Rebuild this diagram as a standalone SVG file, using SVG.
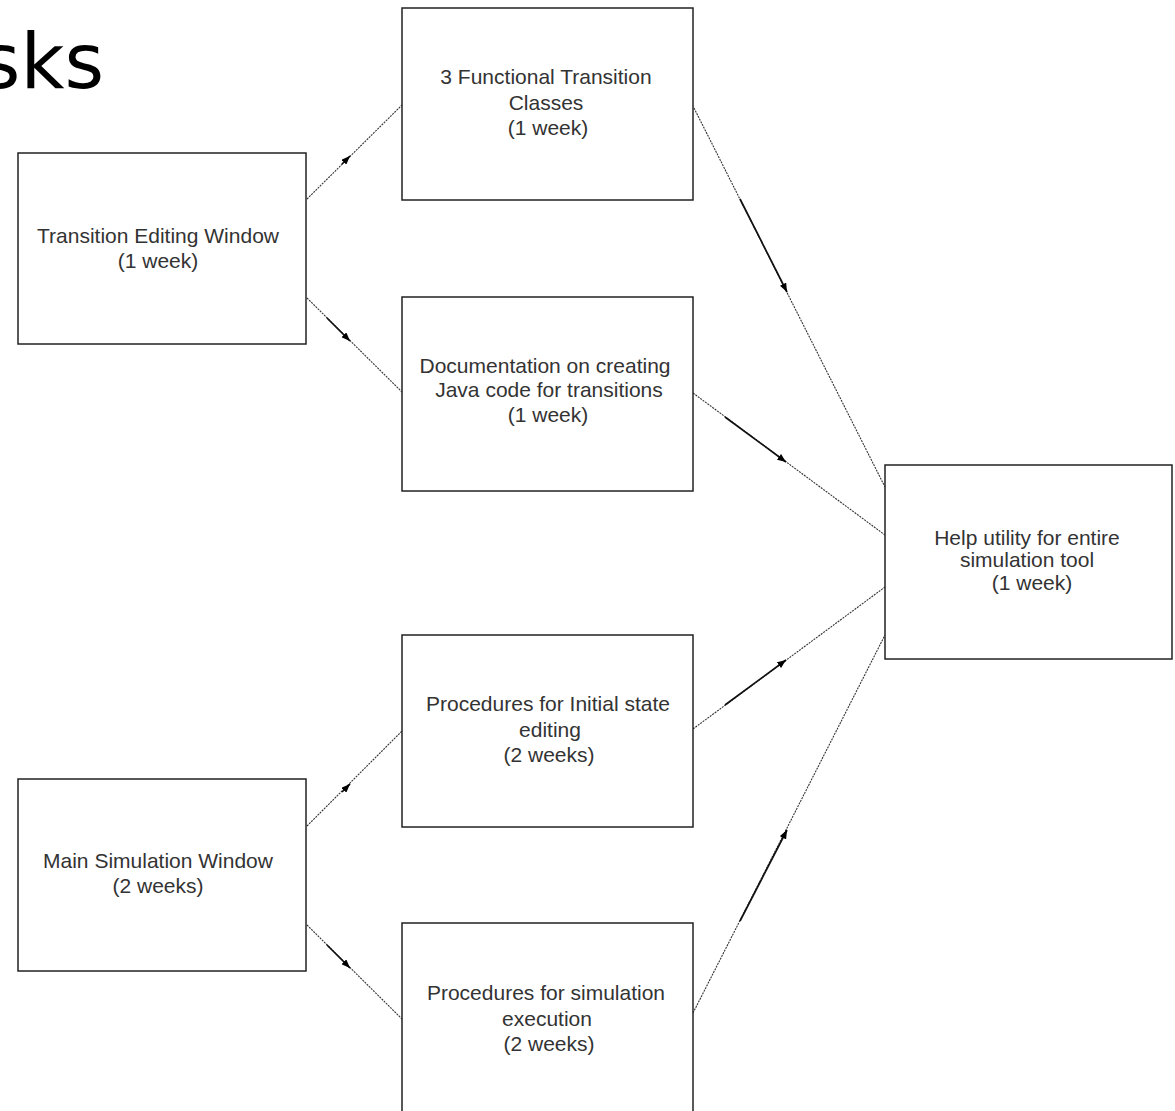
<svg xmlns="http://www.w3.org/2000/svg" width="1175" height="1111" viewBox="0 0 1175 1111">
  <style>
    .box { fill: #ffffff; stroke: #222222; stroke-width: 1.5; }
    .lbl { font-family: "Liberation Sans", Arial, sans-serif; font-size: 21px; fill: #333333; text-anchor: middle; }
    .link { fill: none; stroke: #333333; stroke-width: 1.1; stroke-dasharray: 2 1; }
    .head { fill: none; stroke: #111111; stroke-width: 1.7; }
    .title { font-family: "DejaVu Sans", Verdana, sans-serif; font-size: 76px; fill: #000000; text-anchor: end; }
  </style>
  <defs>
    <marker id="arrow" viewBox="0 0 10 8" refX="10" refY="4" markerWidth="9" markerHeight="7" markerUnits="userSpaceOnUse" orient="auto">
      <path d="M0,0 L10,4 L0,8 z" fill="#000000"/>
    </marker>
  </defs>

  <rect width="1175" height="1111" fill="#ffffff"/>

  <text class="title" x="104" y="88">sks</text>

  <!-- connectors -->
  <g id="connectors">
    <!-- Transition Editing Window -> 3 Functional Transition Classes -->
    <line class="link" x1="307" y1="199" x2="402" y2="105"/>
    <path class="head" d="M342,164 L350,156" marker-end="url(#arrow)"/>
    <!-- Transition Editing Window -> Documentation -->
    <line class="link" x1="307" y1="298" x2="402" y2="392"/>
    <path class="head" d="M327,318 L350,341" marker-end="url(#arrow)"/>
    <!-- Main Simulation Window -> Initial state editing -->
    <line class="link" x1="307" y1="826" x2="402" y2="731"/>
    <path class="head" d="M342,792 L350,784" marker-end="url(#arrow)"/>
    <!-- Main Simulation Window -> Simulation execution -->
    <line class="link" x1="307" y1="925" x2="402" y2="1019"/>
    <path class="head" d="M327,945 L350,968" marker-end="url(#arrow)"/>
    <!-- 3 Functional Transition Classes -> Help utility -->
    <line class="link" x1="694" y1="108" x2="885" y2="487"/>
    <path class="head" d="M740,199 L787,292" marker-end="url(#arrow)"/>
    <!-- Documentation -> Help utility -->
    <line class="link" x1="693" y1="393" x2="885" y2="535"/>
    <path class="head" d="M725,417 L786,462" marker-end="url(#arrow)"/>
    <!-- Initial state editing -> Help utility -->
    <line class="link" x1="693" y1="729" x2="885" y2="587"/>
    <path class="head" d="M725,705 L786,660" marker-end="url(#arrow)"/>
    <!-- Simulation execution -> Help utility -->
    <line class="link" x1="693" y1="1013" x2="885" y2="635"/>
    <path class="head" d="M740,921 L787,830" marker-end="url(#arrow)"/>
  </g>

  <g id="transition-editing-window">
    <rect class="box" x="18" y="153" width="288" height="191"/>
    <text class="lbl" x="158" y="243">Transition Editing Window</text>
    <text class="lbl" x="158" y="268">(1 week)</text>
  </g>

  <g id="functional-transition-classes">
    <rect class="box" x="402" y="8" width="291" height="192"/>
    <text class="lbl" x="546" y="84">3 Functional Transition</text>
    <text class="lbl" x="546" y="110">Classes</text>
    <text class="lbl" x="548" y="135">(1 week)</text>
  </g>

  <g id="documentation">
    <rect class="box" x="402" y="297" width="291" height="194"/>
    <text class="lbl" x="545" y="373">Documentation on creating</text>
    <text class="lbl" x="549" y="397">Java code for transitions</text>
    <text class="lbl" x="548" y="422">(1 week)</text>
  </g>

  <g id="help-utility">
    <rect class="box" x="885" y="465" width="287" height="194"/>
    <text class="lbl" x="1027" y="545">Help utility for entire</text>
    <text class="lbl" x="1027" y="567">simulation tool</text>
    <text class="lbl" x="1032" y="590">(1 week)</text>
  </g>

  <g id="initial-state-editing">
    <rect class="box" x="402" y="635" width="291" height="192"/>
    <text class="lbl" x="548" y="711">Procedures for Initial state</text>
    <text class="lbl" x="550" y="737">editing</text>
    <text class="lbl" x="549" y="762">(2 weeks)</text>
  </g>

  <g id="main-simulation-window">
    <rect class="box" x="18" y="779" width="288" height="192"/>
    <text class="lbl" x="158" y="868">Main Simulation Window</text>
    <text class="lbl" x="158" y="893">(2 weeks)</text>
  </g>

  <g id="simulation-execution">
    <rect class="box" x="402" y="923" width="291" height="200"/>
    <text class="lbl" x="546" y="1000">Procedures for simulation</text>
    <text class="lbl" x="547" y="1026">execution</text>
    <text class="lbl" x="549" y="1051">(2 weeks)</text>
  </g>
</svg>
